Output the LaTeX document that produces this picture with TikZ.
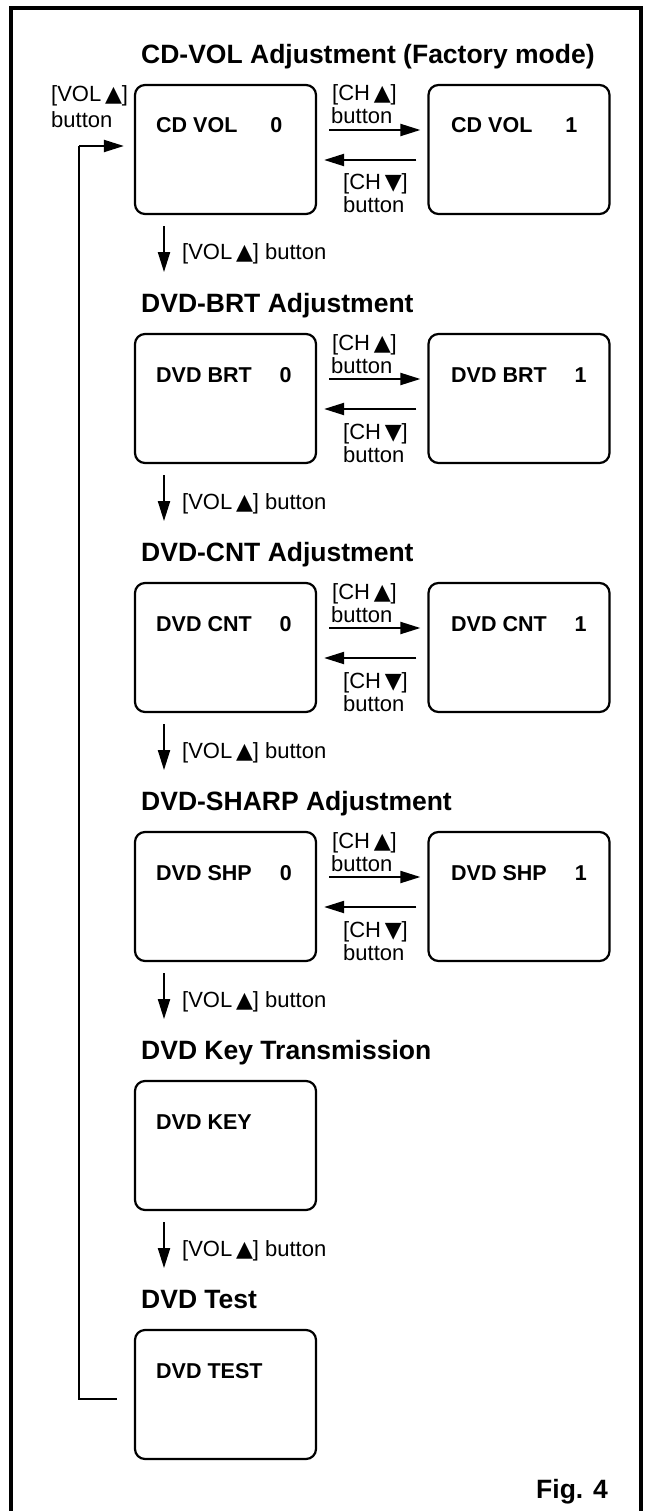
\documentclass[tikz,border=0pt]{standalone}
\usepackage{fontspec}
\setmainfont{Liberation Sans}
\newfontfamily\symfont{DejaVu Sans}
\usetikzlibrary{arrows.meta}
\newcommand\tup{{\symfont ▲}}
\newcommand\tdn{{\symfont ▼}}
\tikzset{
  scr/.style={draw, line width=2.2pt, rounded corners=10pt, minimum width=181pt, minimum height=129pt, inner sep=0pt},
  ttl/.style={anchor=base west, font=\bfseries\fontsize{26.5}{30}\selectfont, inner sep=0pt},
  scrtxt/.style={anchor=base west, font=\bfseries\fontsize{21.5}{24}\selectfont, inner sep=0pt},
  lbl/.style={anchor=base west, font=\fontsize{22}{24}\selectfont, inner sep=0pt},
  arr/.style={line width=2pt, -{Triangle[length=20pt,width=12pt]}},
  conn/.style={line width=2pt},
}
\begin{document}
\begin{tikzpicture}[x=1pt,y=-1pt]
\useasboundingbox (0,0) rectangle (652,1511);
% frame
\draw[line width=3.5pt] (11,1520) -- (11,8) -- (641,8) -- (641,1520);
% rows with two screens
\foreach \i/\t/\ttxt/\btxt/\g in {
  0/85/{CD-VOL Adjustment (Factory mode)}/{CD VOL}/33,
  1/334/{DVD-BRT Adjustment}/{DVD BRT}/28,
  2/583/{DVD-CNT Adjustment}/{DVD CNT}/28,
  3/832/{DVD-SHARP Adjustment}/{DVD SHP}/28}
{
  \node[ttl] (h\i) at (141,\t-21.5) {\ttxt};
  \node[scr] (a\i) at (225.5,\t+64.5) {};
  \node[scr] (b\i) at (519,\t+64.5) {};
  \node[scrtxt] (ta\i) at (156,\t+48) {\btxt\hspace{\g pt}0};
  \node[scrtxt] (tb\i) at (451,\t+48) {\btxt\hspace{\g pt}1};
  \node[lbl] (cu\i) at (332,\t+16) {[CH\,\tup]};
  \node[lbl] (bu\i) at (331,\t+39) {button};
  \node[lbl] (cd\i) at (343,\t+105) {[CH\,\tdn]};
  \node[lbl] (bd\i) at (343,\t+128) {button};
  \draw[arr] ([xshift=12pt,yshift=19.5pt]a\i.east) -- ([xshift=-7pt,yshift=19.5pt]b\i.west);
  \draw[arr] ([xshift=-11pt,yshift=-10.5pt]b\i.west) -- ([xshift=7pt,yshift=-10.5pt]a\i.east);
  \draw[arr] ([xshift=-61.5pt,yshift=-11pt]a\i.south) -- ([xshift=-61.5pt,yshift=-57pt]a\i.south);
  \node[lbl] (v\i) at (182,\t+175) {[VOL\,\tup] button};
}
% DVD key
\node[ttl] (h4) at (141,1081-21.5) {DVD Key Transmission};
\node[scr] (a4) at (225.5,1081+64.5) {};
\node[scrtxt] (ta4) at (156,1081+48) {DVD KEY};
\draw[arr] ([xshift=-61.5pt,yshift=-11pt]a4.south) -- ([xshift=-61.5pt,yshift=-57pt]a4.south);
\node[lbl] (v4) at (182,1081+175) {[VOL\,\tup] button};
% DVD test
\node[ttl] (h5) at (141,1330-21.5) {DVD Test};
\node[scr] (a5) at (225.5,1330+64.5) {};
\node[scrtxt] (ta5) at (156,1330+48) {DVD TEST};
% loop back
\node[lbl] (lv) at (51,102) {[VOL\,\tup]};
\node[lbl] (lb) at (51,128) {button};
\coordinate (ls) at ([xshift=-17pt,yshift=-4.5pt]a5.west);
\coordinate (lc) at (79,146);
\draw[conn] (ls) -| (lc);
\draw[arr] (lc) -- ([xshift=-10pt,yshift=3.5pt]a0.west);
% figure label
\node[ttl] (fig) at (536,1498) {Fig. 4};
\end{tikzpicture}
\end{document}
